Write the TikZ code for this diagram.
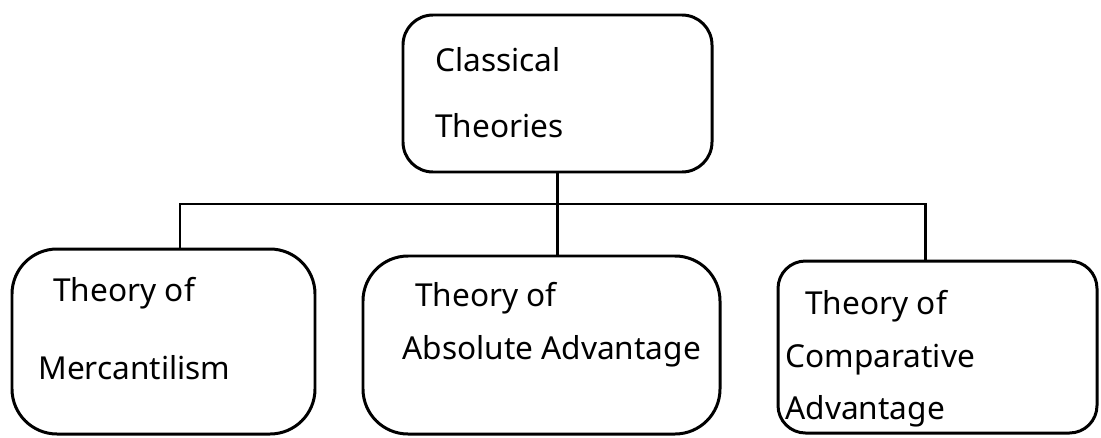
\documentclass[tikz,border=0pt]{standalone}
\usepackage{fontspec}
\setmainfont{Noto Sans}
\usetikzlibrary{positioning,calc}

\begin{document}
\begin{tikzpicture}[
    box/.style={rectangle, draw, line width=1.7pt, rounded corners=0.9cm, inner sep=0pt},
    headbox/.style={box, rounded corners=0.6cm},
    hand/.style={anchor=north west, inner sep=0pt, align=left, font=\fontsize{18}{30}\selectfont},
    link/.style={line width=1.7pt}
]
\useasboundingbox (0,0) rectangle (22.02,-8.74);

\node[headbox, minimum width=6.18cm, minimum height=3.14cm] (classical) at (11.15,-1.87) {};
\node[box, minimum width=6.06cm, minimum height=3.70cm] (merc) at (3.27,-6.83) {};
\node[box, minimum width=7.14cm, minimum height=3.56cm] (absadv) at (10.83,-6.90) {};
\node[box, rounded corners=0.55cm, minimum width=6.38cm, minimum height=3.44cm] (compadv) at (18.75,-6.94) {};

\node[hand] (classical-txt) at (8.70,-0.94) {Classical\\[0.26cm]Theories};
\node[hand] (merc-txt) at (0.76,-5.54) {\hspace*{0.3cm}Theory of\\[0.5cm]Mercantilism};
\node[hand] (absadv-txt) at (8.04,-5.64) {\hspace*{0.26cm}Theory of\\Absolute Advantage};
\node[hand] (compadv-txt) at (15.70,-5.80) {\hspace*{0.4cm}Theory of\\Comparative\\Advantage};

\coordinate (bar) at (11,-4.08);
\draw[link] (classical.south) -- (classical.south |- absadv.north);
\draw[link] ([xshift=0.33cm]merc.north) |- (bar) -| ([xshift=-0.25cm]compadv.north);
\end{tikzpicture}
\end{document}
